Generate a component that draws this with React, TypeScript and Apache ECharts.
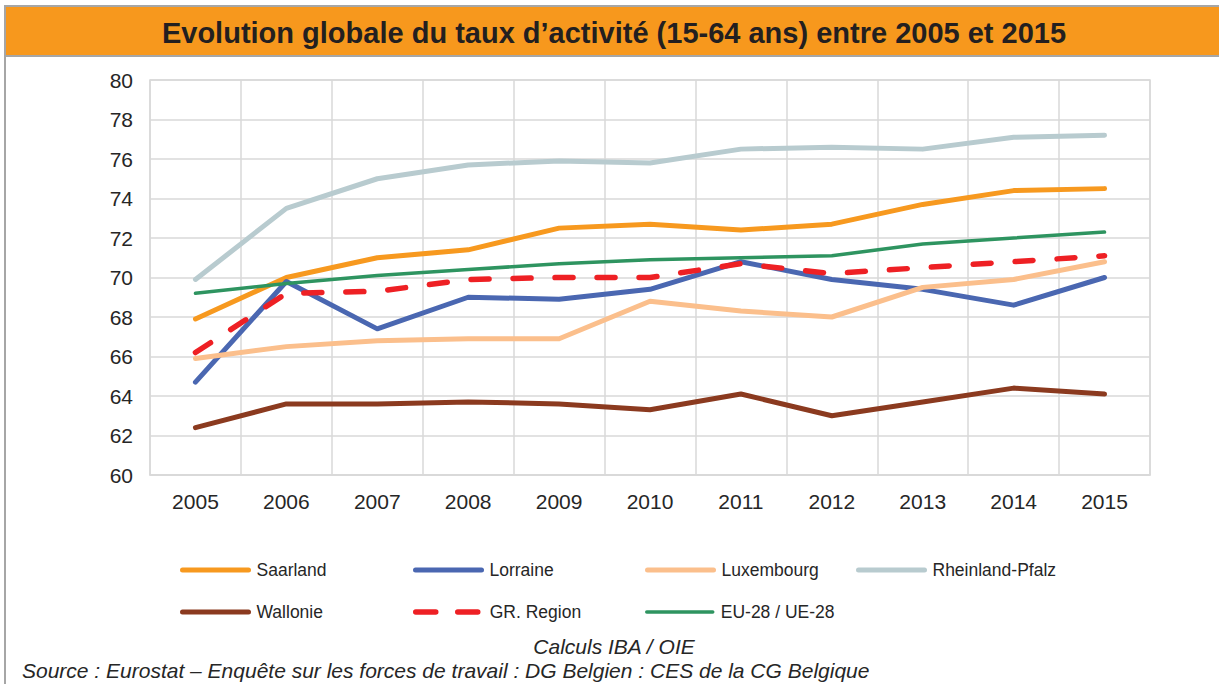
import React, { useEffect, useRef } from "react";
import * as echarts from "echarts";

const years = ["2005", "2006", "2007", "2008", "2009", "2010", "2011", "2012", "2013", "2014", "2015"];
const saarland = [67.9, 70.0, 71.0, 71.4, 72.5, 72.7, 72.4, 72.7, 73.7, 74.4, 74.5];
const lorraine = [64.7, 69.8, 67.4, 69.0, 68.9, 69.4, 70.8, 69.9, 69.4, 68.6, 70.0];
const luxembourg = [65.9, 66.5, 66.8, 66.9, 66.9, 68.8, 68.3, 68.0, 69.5, 69.9, 70.8];
const rheinlandPfalz = [69.9, 73.5, 75.0, 75.7, 75.9, 75.8, 76.5, 76.6, 76.5, 77.1, 77.2];
const wallonie = [62.4, 63.6, 63.6, 63.7, 63.6, 63.3, 64.1, 63.0, 63.7, 64.4, 64.1];
const grRegion = [66.2, 69.2, 69.3, 69.9, 70.0, 70.0, 70.7, 70.2, 70.5, 70.8, 71.1];
const eu28 = [69.2, 69.7, 70.1, 70.4, 70.7, 70.9, 71.0, 71.1, 71.7, 72.0, 72.3];

const FONT = "Liberation Sans, Arial, sans-serif";
const TXT = "#262626";

type S = { name: string; data: number[]; color: string; width: number; dash?: number[]; lx: number; ly: number };
const seriesDefs: S[] = [
  { name: "Saarland", data: saarland, color: "#F7991F", width: 5, lx: 180, ly: 561 },
  { name: "Lorraine", data: lorraine, color: "#4A67B1", width: 5, lx: 413, ly: 561 },
  { name: "Luxembourg", data: luxembourg, color: "#FBBF8C", width: 5, lx: 645, ly: 561 },
  { name: "Rheinland-Pfalz", data: rheinlandPfalz, color: "#B8CBCF", width: 5, lx: 856, ly: 561 },
  { name: "Wallonie", data: wallonie, color: "#8B3A1F", width: 5, lx: 180, ly: 603 },
  { name: "GR. Region", data: grRegion, color: "#EE2024", width: 5.5, dash: [18, 24], lx: 413, ly: 603 },
  { name: "EU-28 / UE-28", data: eu28, color: "#2E9460", width: 3.5, lx: 645, ly: 603 },
];

export default function App() {
  const ref = useRef<HTMLDivElement>(null);
  useEffect(() => {
    if (!ref.current) return;
    const chart = echarts.init(ref.current, undefined, { renderer: "svg" });
    const option: any = {
      animation: false,
      backgroundColor: "#ffffff",
      textStyle: { fontFamily: FONT, color: TXT },
      grid: {
        left: 150,
        top: 80,
        width: 1000,
        height: 395,
        show: true,
        borderColor: "#D9D9D9",
        borderWidth: 1.5,
      },
      xAxis: {
        type: "category",
        data: years,
        boundaryGap: true,
        axisLine: { show: true, lineStyle: { color: "#D9D9D9", width: 1.5 } },
        axisTick: { show: false },
        splitLine: { show: true, lineStyle: { color: "#D9D9D9", width: 1.5 } },
        axisLabel: { fontSize: 21, color: TXT, margin: 16, fontFamily: FONT },
      },
      yAxis: {
        type: "value",
        min: 60,
        max: 80,
        interval: 2,
        axisLine: { show: false },
        axisTick: { show: false },
        splitLine: { show: true, lineStyle: { color: "#D9D9D9", width: 1.5 } },
        axisLabel: { fontSize: 21, color: TXT, margin: 17, fontFamily: FONT },
      },
      legend: seriesDefs.map((s) => ({
        data: [s.name],
        left: s.lx,
        top: s.ly,
        padding: 0,
        itemWidth: 66,
        itemHeight: 20,
        itemGap: 6,
        textStyle: { fontSize: 17.5, color: TXT, fontFamily: FONT, padding: [0, 0, 0, 3] },
        itemStyle: { color: "rgba(0,0,0,0)", borderWidth: 0, opacity: 0 },
        lineStyle: s.dash
          ? { width: s.width, cap: "round", type: [20, 22] }
          : { width: s.width, cap: "round" },
        selectedMode: false,
      })),
      series: seriesDefs.map((s) => ({
        name: s.name,
        type: "line",
        data: s.data,
        symbol: "none",
        color: s.color,
        lineStyle: {
          color: s.color,
          width: s.width,
          type: s.dash ? s.dash : "solid",
          cap: "round",
          join: "round",
        },
        z: s.name === "GR. Region" ? 3 : 2,
      })),
      graphic: [
        {
          type: "rect",
          shape: { x: 5, y: 6, width: 1240, height: 50 },
          style: { fill: "#F7981D", stroke: "#A6A6A6", lineWidth: 2 },
          z: 10,
        },
        {
          type: "text",
          x: 614,
          y: 33,
          style: {
            text: "Evolution globale du taux d’activité (15-64 ans) entre 2005 et 2015",
            font: `bold 29px ${FONT}`,
            fill: "#231F20",
            textAlign: "center",
            textVerticalAlign: "middle",
          },
          z: 11,
        },
        {
          type: "line",
          shape: { x1: 5, y1: 56, x2: 5, y2: 700 },
          style: { stroke: "#A6A6A6", lineWidth: 2 },
          z: 10,
        },
        {
          type: "text",
          x: 614,
          y: 646,
          style: {
            text: "Calculs IBA / OIE",
            font: `italic 21px ${FONT}`,
            fill: TXT,
            textAlign: "center",
            textVerticalAlign: "middle",
          },
        },
        {
          type: "text",
          x: 22,
          y: 660,
          style: {
            text: "Source : Eurostat – Enquête sur les forces de travail : DG Belgien : CES de la CG Belgique",
            font: `italic 21px ${FONT}`,
            fill: TXT,
            textAlign: "left",
            textVerticalAlign: "top",
          },
        },
      ],
    };
    chart.setOption(option);
    return () => chart.dispose();
  }, []);
  return (
    <div
      ref={ref}
      style={{ position: "fixed", left: 0, top: 0, width: 1219, height: 684 }}
    />
  );
}
